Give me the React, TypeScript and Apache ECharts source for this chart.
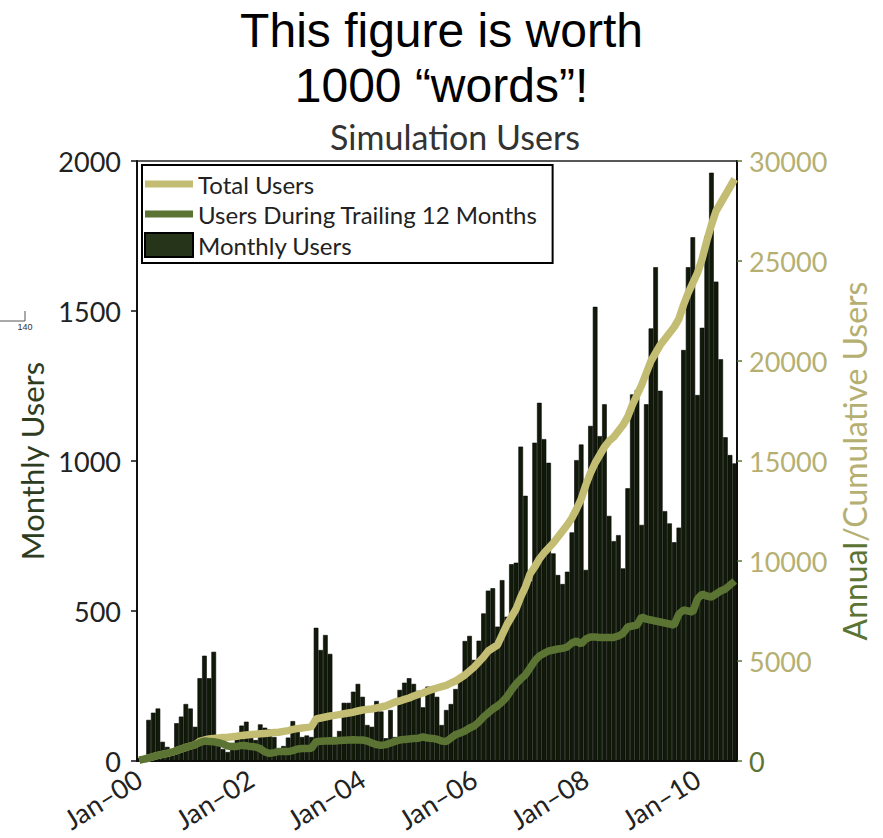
import React, { useEffect, useRef } from "react";
import * as echarts from "echarts";

const MONTHS = ["Jan", "Feb", "Mar", "Apr", "May", "Jun", "Jul", "Aug", "Sep", "Oct", "Nov", "Dec"];
const YEARS = ["00", "01", "02", "03", "04", "05", "06", "07", "08", "09", "10"];

// Monthly users, Jan-00 .. Sep-10
const MONTHLY_USERS = [
  10, 15, 137, 161, 175, 64, 47, 34, 126, 148, 190, 175,
  114, 276, 351, 276, 364, 50, 40, 30, 60, 87, 118, 131,
  81, 70, 122, 111, 106, 80, 40, 50, 78, 133, 110, 80,
  85, 80, 444, 370, 420, 357, 80, 100, 194, 194, 231, 257,
  214, 120, 114, 200, 165, 76, 170, 80, 237, 261, 276, 257,
  234, 179, 248, 244, 214, 120, 170, 190, 240, 282, 400, 417,
  337, 401, 492, 568, 576, 448, 603, 481, 656, 661, 1048, 884,
  600, 1061, 1194, 1073, 994, 692, 620, 590, 631, 762, 1003, 1055,
  637, 1117, 1514, 1083, 1189, 817, 733, 753, 642, 909, 1222, 1237,
  787, 1189, 1442, 1646, 1234, 833, 792, 729, 778, 1370, 1646, 1746,
  1220, 1444, 1750, 1961, 1598, 1339, 1079, 1020, 992,
];

// Users during trailing 12 months (right axis)
const TRAILING_12 = [
  40, 90, 150, 220, 280, 330, 380, 440, 520, 600, 680, 750,
  820, 920, 1000, 980, 960, 920, 850, 750, 720, 730, 780, 760,
  720, 700, 620, 450, 380, 420, 480, 480, 470, 520, 600, 620,
  630, 640, 960, 990, 1000, 1010, 1000, 1020, 1040, 1050, 1060, 1050,
  1050, 1000, 900, 820, 780, 820, 900, 980, 1050, 1080, 1100, 1120,
  1140, 1200, 1150, 1130, 1090, 1000, 970, 1150, 1320, 1400, 1500, 1650,
  1750, 1950, 2200, 2400, 2600, 2750, 2950, 3200, 3550, 3850, 4100, 4300,
  4650, 5000, 5250, 5380, 5500, 5550, 5600, 5630, 5700, 5900, 6000, 5850,
  6100, 6200, 6200, 6180, 6170, 6170, 6180, 6250, 6380, 6700, 6750, 6800,
  7200, 7100, 7050, 7000, 6950, 6900, 6850, 6800, 7350, 7550, 7500, 7450,
  8100, 8350, 8250, 8200, 8350, 8500, 8600, 8800, 9000,
];

// Total (cumulative) users (right axis)
const TOTAL_USERS = [
  40, 90, 150, 220, 280, 330, 380, 440, 520, 600, 680, 750,
  820, 980, 1050, 1100, 1130, 1150, 1170, 1185, 1210, 1240, 1280, 1300,
  1320, 1340, 1360, 1380, 1400, 1420, 1440, 1480, 1520, 1580, 1620, 1650,
  1680, 1720, 2100, 2150, 2200, 2250, 2280, 2320, 2360, 2400, 2440, 2500,
  2550, 2580, 2600, 2650, 2700, 2750, 2850, 2950, 3000, 3080, 3150, 3250,
  3330, 3400, 3500, 3580, 3650, 3720, 3780, 3900, 4000, 4150, 4300, 4500,
  4700, 4950, 5200, 5500, 5650, 5800, 6300, 6800, 7200, 7600, 8200, 8700,
  9350, 9700, 10100, 10400, 10650, 10900, 11200, 11500, 11800, 12150, 12600, 13100,
  13800, 14400, 14900, 15300, 15700, 16000, 16200, 16500, 16800, 17200, 17800, 18300,
  18800, 19400, 20000, 20400, 20800, 21100, 21400, 21700, 22100, 22800, 23400, 23900,
  24400, 25100, 26000, 26800, 27500, 27900, 28300, 28700, 29100,
];

const CATEGORIES = YEARS.flatMap((y) => MONTHS.map((m) => `${m}\u2013${y}`)).slice(0, MONTHLY_USERS.length);

const KHAKI = "#c3bd73";
const KHAKI_TEXT = "#b5b072";
const GREEN = "#5b7433";
const GREEN_DARK = "#2e3d1f";
const FONT = "Lato";
const LINE_ICON = "path://M0,0H48V7H0Z";

export default function App() {
  const ref = useRef<HTMLDivElement>(null);
  useEffect(() => {
    if (!ref.current) return;
    const chart = echarts.init(ref.current, null, { renderer: "svg" });
    const showTick = (i: number) => i % 24 === 0;
    chart.setOption({
      animation: false,
      backgroundColor: "#ffffff",
      title: {
        text: "This figure is worth\n1000 \u201cwords\u201d!",
        left: "center",
        top: -2,
        textStyle: {
          fontFamily: "Liberation Sans",
          fontSize: 48,
          fontWeight: "normal",
          color: "#000",
          lineHeight: 55,
        },
      },
      graphic: [
        {
          type: "text",
          x: 455,
          y: 136,
          style: {
            text: "Simulation Users",
            fontFamily: FONT,
            fontSize: 34,
            fill: "#333",
            textAlign: "center",
            textVerticalAlign: "middle",
          },
        },
        {
          type: "polyline",
          shape: { points: [[0, 321], [25, 321], [25, 311]] },
          style: { stroke: "#555", lineWidth: 1, fill: null },
        },
        {
          type: "text",
          x: 25,
          y: 327,
          style: { text: "140", fontFamily: "Liberation Sans", fontSize: 9, fill: "#333", textAlign: "center", textVerticalAlign: "middle" },
        },
      ],
      legend: {
        orient: "vertical",
        left: 142,
        top: 165,
        itemWidth: 48,
        itemHeight: 24,
        itemGap: 6,
        padding: [7, 15, 5, 2],
        borderColor: "#000",
        borderWidth: 2,
        backgroundColor: "#fff",
        textStyle: { fontFamily: FONT, fontSize: 24, color: "#222" },
        data: [
          { name: "Total Users", icon: LINE_ICON, itemStyle: { color: KHAKI } },
          { name: "Users During Trailing 12 Months", icon: LINE_ICON, itemStyle: { color: GREEN } },
          { name: "Monthly Users", icon: "rect", itemStyle: { color: "#26341a", borderColor: "#000", borderWidth: 2 } },
        ],
      },
      grid: {
        left: 137,
        top: 161,
        width: 600,
        height: 600,
        show: true,
        borderColor: "#222",
        borderWidth: 1.5,
        backgroundColor: "transparent",
      },
      xAxis: {
        type: "category",
        data: CATEGORIES,
        boundaryGap: true,
        axisLine: { lineStyle: { color: "#111", width: 2 } },
        axisTick: { alignWithLabel: true, interval: (i: number) => showTick(i), length: 6, lineStyle: { color: "#111", width: 1.5 } },
        axisLabel: {
          interval: (i: number) => showTick(i),
          rotate: 32,
          fontFamily: FONT,
          fontSize: 27,
          color: "#222",
          margin: 15,
        },
        splitLine: { show: false },
      },
      yAxis: [
        {
          type: "value",
          min: 0,
          max: 2000,
          interval: 500,
          position: "left",
          name: "Monthly Users",
          nameLocation: "middle",
          nameRotate: 90,
          nameGap: 88,
          nameTextStyle: { fontFamily: FONT, fontSize: 31, color: GREEN_DARK },
          axisLine: { show: true, lineStyle: { color: "#111", width: 2 } },
          axisTick: { show: true, length: 6, lineStyle: { color: "#111", width: 1.5 } },
          axisLabel: { fontFamily: FONT, fontSize: 27, color: "#222", margin: 16, formatter: (v: number) => String(v) },
          splitLine: { show: false },
        },
        {
          type: "value",
          min: 0,
          max: 30000,
          interval: 5000,
          position: "right",
          name: "{a|Annual}{b|/Cumulative Users}",
          nameLocation: "middle",
          nameRotate: 90,
          nameGap: 101,
          nameTextStyle: {
            rich: {
              a: { fontFamily: FONT, fontSize: 32, color: GREEN },
              b: { fontFamily: FONT, fontSize: 32, color: KHAKI_TEXT },
            },
          },
          axisLine: { show: true, lineStyle: { color: "#111", width: 2 } },
          axisTick: { show: true, length: 5, lineStyle: { color: GREEN, width: 1.5 } },
          axisLabel: {
            margin: 12,
            formatter: (v: number) => (v === 0 ? `{g|${v}}` : `{k|${v}}`),
            rich: {
              g: { fontFamily: FONT, fontSize: 27, color: GREEN },
              k: { fontFamily: FONT, fontSize: 27, color: KHAKI_TEXT },
            },
          },
          splitLine: { show: false },
        },
      ],
      series: [
        {
          name: "Monthly Users",
          type: "bar",
          yAxisIndex: 0,
          data: MONTHLY_USERS,
          barCategoryGap: "0%",
          itemStyle: { color: "#111909", borderColor: "#050805", borderWidth: 0.6 },
        },
        {
          name: "Total Users",
          type: "line",
          yAxisIndex: 1,
          data: TOTAL_USERS,
          symbol: "none",
          lineStyle: { color: KHAKI, width: 7.5 },
          itemStyle: { color: KHAKI },
        },
        {
          name: "Users During Trailing 12 Months",
          type: "line",
          yAxisIndex: 1,
          data: TRAILING_12,
          symbol: "none",
          lineStyle: { color: GREEN, width: 7.5 },
          itemStyle: { color: GREEN },
        },
      ],
    });
    return () => chart.dispose();
  }, []);
  return (
    <div
      ref={ref}
      style={{ position: "absolute", left: 0, top: 0, width: 883, height: 838, background: "#fff" }}
    />
  );
}
